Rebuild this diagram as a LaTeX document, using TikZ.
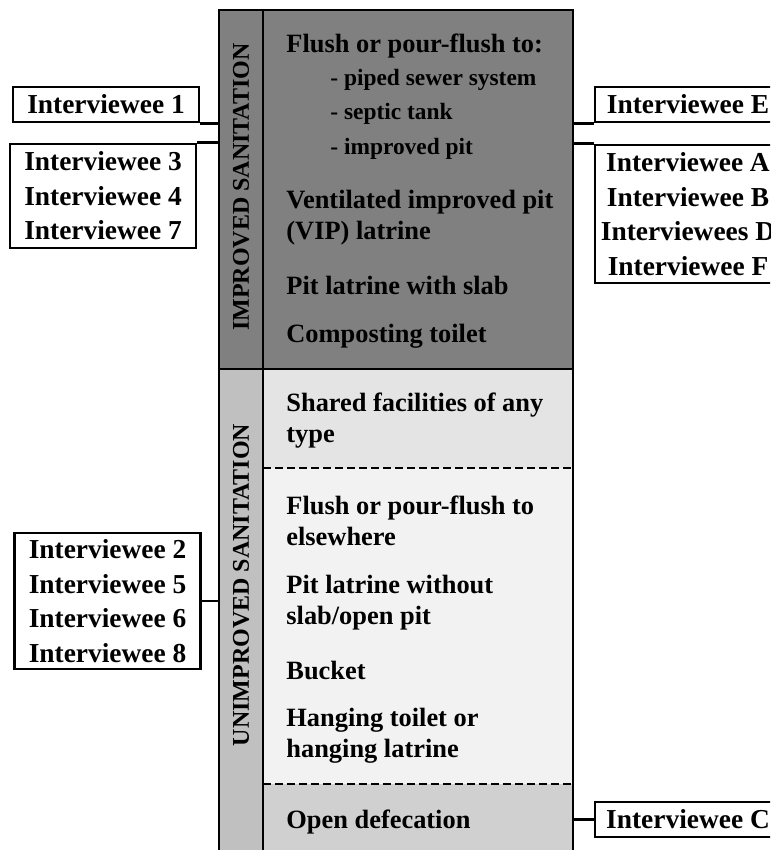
\documentclass[tikz,border=0pt]{standalone}
\usepackage{fontspec}
\setmainfont{Liberation Serif}
\usepackage{xcolor}
\usetikzlibrary{positioning, calc}

\definecolor{impgray}{HTML}{808080}
\definecolor{labgray}{HTML}{C0C0C0}
\definecolor{sharedgray}{HTML}{E4E4E4}
\definecolor{othergray}{HTML}{F2F2F2}
\definecolor{opengray}{HTML}{D0D0D0}

\tikzset{
	ibox/.style={draw, line width=1.3pt, fill=white, inner sep=0pt, minimum width=93pt, align=center,
		font=\fontsize{13.7}{17.25}\selectfont\bfseries},
	item/.style={anchor=west, inner sep=0pt, align=left, font=\fontsize{13.2}{15.5}\selectfont\bfseries},
	subitem/.style={anchor=west, inner sep=0pt, font=\fontsize{11.7}{14}\selectfont\bfseries},
	collabel/.style={rotate=90, inner sep=0pt, font=\fontsize{12}{14}\selectfont\bfseries},
	link/.style={line width=1.3pt},
	divider/.style={line width=1.2pt, dash pattern=on 4pt off 2pt}
}

\begin{document}
\begin{tikzpicture}[x=0.5pt, y=-0.5pt]
		\useasboundingbox (0,0) rectangle (770,850);
		\clip (0,0) rectangle (770,850);
		% column fills
		\fill[impgray] (219,10) rectangle (573,369);
		\fill[labgray] (219,369) rectangle (263,870);
		\fill[sharedgray] (263,369) rectangle (573,468);
		\fill[othergray] (263,468) rectangle (573,784);
		\fill[opengray] (263,784) rectangle (573,870);
		% column borders
		\draw[line width=1.4pt] (219,870) -- (219,10) -- (573,10) -- (573,870);
		\draw[line width=1.4pt] (263,10) -- (263,870);
		\draw[line width=1.4pt] (219,369) -- (573,369);
		\draw[divider] (263,468) -- (573,468);
		\draw[divider] (263,784) -- (573,784);
		\coordinate (colL) at (219,0);
		\coordinate (colR) at (573,0);
		% side labels
		\node[collabel] (lblImp) at (241,187) {IMPROVED SANITATION};
		\node[collabel] (lblUnimp) at (241,585) {UNIMPROVED SANITATION};
		% facility types
		\node[item] (flush) at (286,46) {Flush or pour-flush to:};
		\node[subitem] (sewer) at (330,80) {- piped sewer system};
		\node[subitem] (septic) at (330,114) {- septic tank};
		\node[subitem] (imppit) at (330,149) {- improved pit};
		\node[item] (vip) at (286,217.5) {Ventilated improved pit\\(VIP) latrine};
		\node[item] (slab) at (286,285) {Pit latrine with slab};
		\node[item] (compost) at (286,336) {Composting toilet};
		\node[item] (shared) at (286,421) {Shared facilities of any\\type};
		\node[item] (elsewhere) at (286,521) {Flush or pour-flush to\\elsewhere};
		\node[item] (noslab) at (286,602.5) {Pit latrine without\\slab/open pit};
		\node[item] (bucket) at (286,670) {Bucket};
		\node[item] (hanging) at (286,736) {Hanging toilet or\\hanging latrine};
		\node[item] (opendef) at (286,822) {Open defecation};
		% interviewees
		\node[ibox, minimum height=17.5pt] (iOne) at (106,104.5) {Interviewee 1};
		\node[ibox, minimum height=52pt] (iThree) at (103,196) {Interviewee 3\\Interviewee 4\\Interviewee 7};
		\node[ibox, minimum height=68pt] (iTwo) at (107.5,601) {Interviewee 2\\Interviewee 5\\Interviewee 6\\Interviewee 8};
		\node[ibox, minimum height=17.5pt] (iE) at (688,104.5) {Interviewee E};
		\node[ibox, minimum height=69pt] (iA) at (688,214) {Interviewee A\\Interviewee B\\Interviewees D\\Interviewee F};
		\node[ibox, minimum height=17.5pt] (iC) at (688,819.5) {Interviewee C};
		% connectors
		\draw[link] (iOne.south east) -- (iOne.south east -| colL);
		\draw[link] (iThree.north east) -- (iThree.north east -| colL);
		\draw[link] (iTwo.east) -- (iTwo.east -| colL);
		\draw[link] (iE.south west) -- (iE.south west -| colR);
		\draw[link] (iA.north west) -- (iA.north west -| colR);
		\draw[link] (iC.west) -- (iC.west -| colR);
	\end{tikzpicture}
\end{document}
